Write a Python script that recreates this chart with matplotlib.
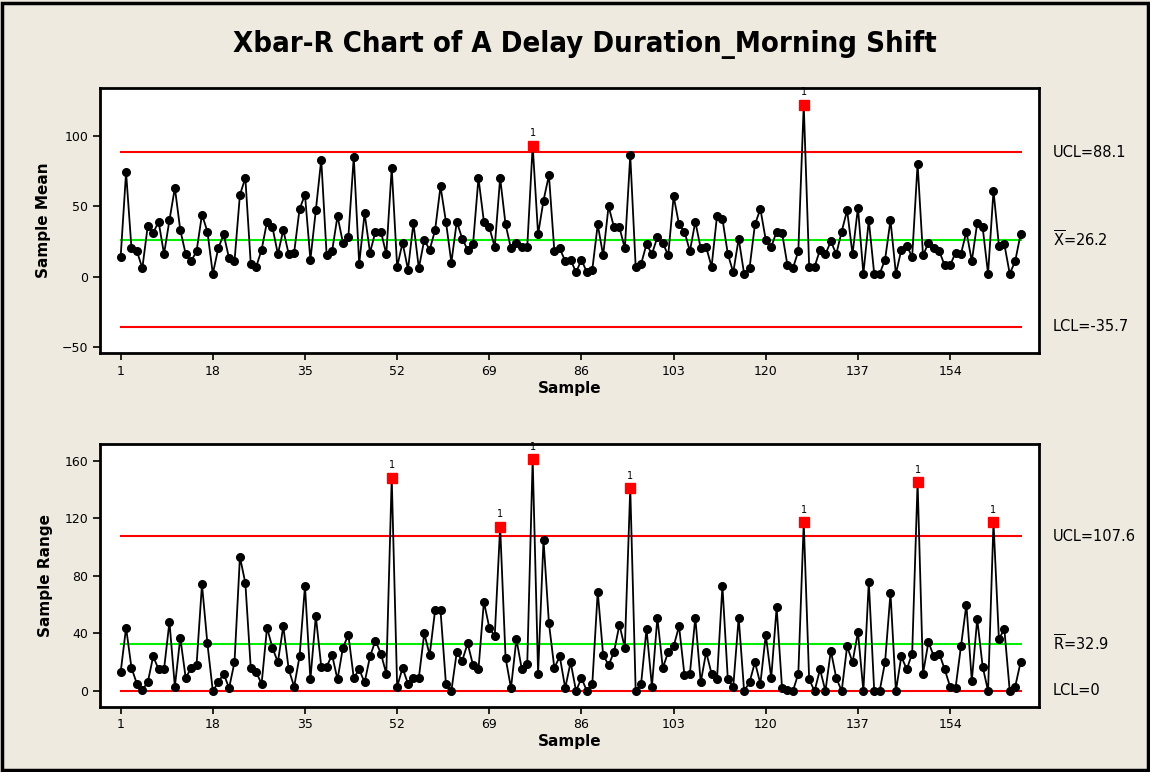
import numpy as np
import matplotlib
matplotlib.use('Agg')
import matplotlib.pyplot as plt
from matplotlib.patches import Rectangle

# subgroup means (Xbar) per sample
xbar = [14, 74, 20, 18, 6, 36, 31, 39, 16, 40,
        63, 33, 16, 11, 18, 44, 32, 2, 20, 30,
        13, 11, 58, 70, 9, 7, 19, 39, 35, 16,
        33, 16, 17, 48, 58, 12, 47, 83, 15, 18,
        43, 24, 28, 85, 9, 45, 17, 32, 32, 16,
        77, 7, 24, 5, 38, 6, 26, 19, 33, 64,
        39, 10, 39, 27, 19, 23, 70, 39, 35, 21,
        70, 37, 20, 24, 21, 21, 93, 30, 54, 72,
        18, 20, 11, 12, 3, 12, 3, 5, 37, 15,
        50, 35, 35, 20, 86, 7, 9, 23, 16, 28,
        24, 15, 57, 37, 32, 18, 39, 20, 21, 7,
        43, 41, 16, 3, 27, 2, 6, 37, 48, 26,
        21, 32, 31, 8, 6, 18, 122, 7, 7, 19,
        16, 25, 16, 32, 47, 16, 49, 2, 40, 2,
        2, 12, 40, 2, 19, 22, 14, 80, 15, 24,
        20, 18, 8, 8, 17, 16, 32, 11, 38, 35,
        2, 61, 22, 23, 2, 11, 30]

# subgroup ranges per sample
rng = [13, 44, 16, 5, 1, 6, 24, 15, 15, 48,
       3, 37, 9, 16, 18, 74, 33, 0, 6, 12,
       2, 20, 93, 75, 16, 13, 5, 44, 30, 20,
       45, 15, 3, 24, 73, 8, 52, 17, 17, 25,
       8, 30, 39, 9, 15, 6, 24, 35, 26, 12,
       148, 3, 16, 5, 9, 9, 40, 25, 56, 56,
       5, 0, 27, 21, 33, 18, 15, 62, 44, 38,
       114, 23, 2, 36, 15, 19, 161, 12, 105, 47,
       16, 24, 2, 20, 0, 9, 0, 5, 69, 25,
       18, 27, 46, 30, 141, 0, 5, 43, 3, 51,
       16, 27, 31, 45, 11, 12, 51, 6, 27, 12,
       8, 73, 8, 3, 51, 0, 6, 20, 5, 39,
       9, 58, 2, 1, 0, 12, 117, 8, 0, 15,
       0, 28, 9, 0, 31, 20, 41, 0, 76, 0,
       0, 20, 68, 0, 24, 15, 26, 145, 12, 34,
       24, 26, 15, 3, 2, 31, 60, 7, 50, 17,
       0, 117, 36, 43, 0, 3, 20]

x_ucl, x_cl, x_lcl = 88.1, 26.2, -35.7
r_ucl, r_cl, r_lcl = 107.6, 32.9, 0.0
xticks = [1, 18, 35, 52, 69, 86, 103, 120, 137, 154]

bg = '#EEEAE0'
samples = np.arange(1, len(xbar) + 1)
xbar = np.array(xbar, dtype=float)
rng = np.array(rng, dtype=float)

fig = plt.figure(figsize=(11.5, 7.72), dpi=100, facecolor=bg)
fig.patches.append(Rectangle((0.002, 0.002), 0.996, 0.994, transform=fig.transFigure,
                             fill=False, edgecolor='black', linewidth=2.5))

fig.text(0.509, 0.942, 'Xbar-R Chart of A Delay Duration_Morning Shift',
         ha='center', va='center', fontsize=21, fontweight='bold',
         family=['Liberation Sans Narrow', 'DejaVu Sans'], fontstretch='condensed')


def draw_panel(ax, vals, ucl, cl, lcl, ylim, yticks, ylabel, labels):
    ax.set_facecolor('white')
    ax.plot(samples, vals, '-', color='black', lw=1.3, zorder=3)
    ax.plot(samples, vals, 'o', color='black', ms=5.5, zorder=4)
    out = (vals > ucl) | (vals < lcl)
    ax.plot(samples[out], vals[out], 's', color='#FF0000', ms=7.5, zorder=5)
    for s, v in zip(samples[out], vals[out]):
        ax.text(s, v + 0.028 * (ylim[1] - ylim[0]), '1', ha='center', va='bottom',
                fontsize=7, zorder=6)
    ax.plot([1, len(vals)], [ucl, ucl], color='#FF0000', lw=1.5, zorder=2)
    ax.plot([1, len(vals)], [lcl, lcl], color='#FF0000', lw=1.5, zorder=2)
    ax.plot([1, len(vals)], [cl, cl], color='#00EE00', lw=1.5, zorder=2)
    ax.set_xlim(-2.8, 170.4)
    ax.set_ylim(*ylim)
    ax.set_xticks(xticks)
    ax.set_yticks(yticks)
    ax.tick_params(labelsize=9, length=5, width=1.2, direction='out')
    for sp in ax.spines.values():
        sp.set_linewidth(2)
    ax.set_xlabel('Sample', fontsize=11, fontweight='bold', labelpad=2)
    ax.set_ylabel(ylabel, fontsize=11, fontweight='bold', labelpad=8)
    for yv, txt in zip([ucl, cl, lcl], labels):
        ax.annotate(txt, xy=(1.0, yv), xycoords=('axes fraction', 'data'),
                    xytext=(10, 0), textcoords='offset points',
                    ha='left', va='center', fontsize=10.5, annotation_clip=False)


ax1 = fig.add_axes([0.087, 0.5427, 0.8165, 0.3433])
draw_panel(ax1, xbar, x_ucl, x_cl, x_lcl, (-54.2, 133.8), [-50, 0, 50, 100],
           'Sample Mean', ['UCL=88.1', r'$\overline{\mathregular{X}}$=26.2', 'LCL=-35.7'])

ax2 = fig.add_axes([0.087, 0.0846, 0.8165, 0.3403])
draw_panel(ax2, rng, r_ucl, r_cl, r_lcl, (-10.9, 171.5), [0, 40, 80, 120, 160],
           'Sample Range', ['UCL=107.6', r'$\overline{\mathregular{R}}$=32.9', 'LCL=0'])

fig.savefig('out.png', dpi=100, facecolor=bg)
